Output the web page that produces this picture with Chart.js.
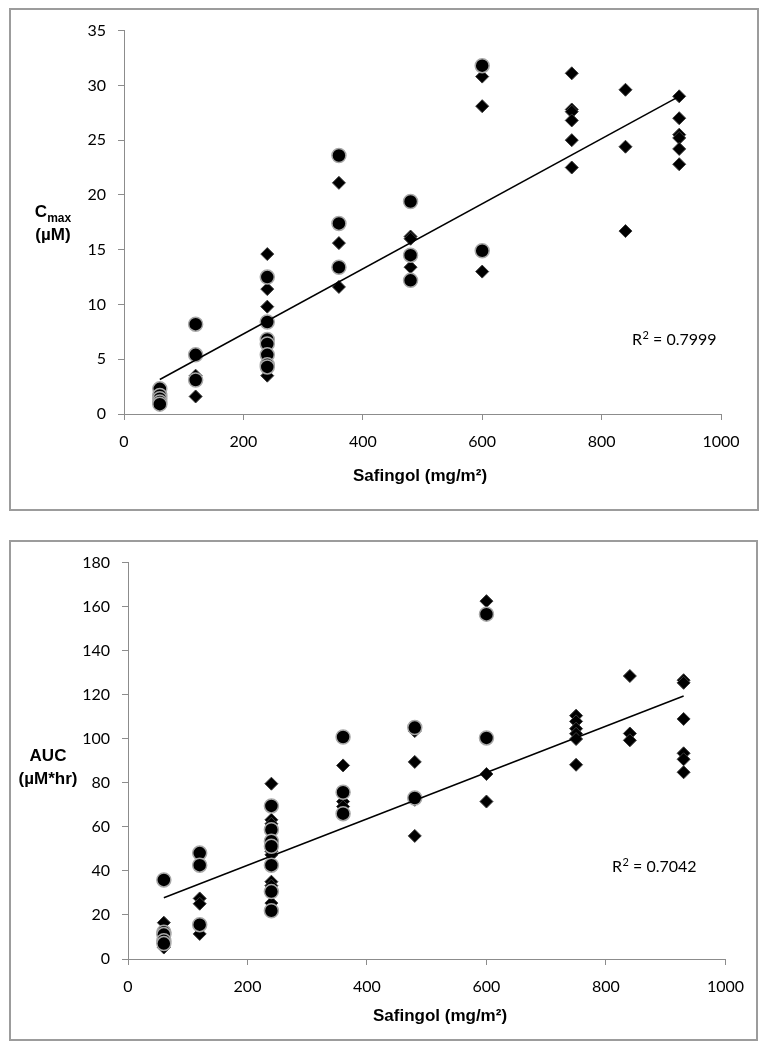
<!DOCTYPE html>
<html>
<head>
<meta charset="utf-8">
<title>Safingol – Cmax / AUC</title>
<script src="https://cdn.jsdelivr.net/npm/chart.js@4.4.1/dist/chart.umd.min.js"></script>
<style>
  html, body { margin: 0; padding: 0; background: #fff; }
  #page { position: relative; width: 768px; height: 1050px; overflow: hidden; }
  .panel { position: absolute; border: 2px solid #9c9c9c; box-sizing: border-box; }
  #page canvas { position: absolute; }
</style>
</head>
<body>
<div id="page">
  <div class="panel" style="left:9px; top:8px; width:750px; height:503px;"></div>
  <div class="panel" style="left:9px; top:540px; width:749px; height:501px;"></div>
  <canvas id="chart-cmax" width="748" height="500" style="left:10px; top:9px;"></canvas>
  <canvas id="chart-auc" width="746" height="498" style="left:10px; top:541px;"></canvas>
</div>

<script>
'use strict';

/* ---- Data ---- */
const doses = [60, 120, 240, 360, 480, 600, 750, 840, 930];

// Cmax (µM), one list per dose level
const cmaxCircles = [
  [2.3, 1.7, 1.4, 1.1, 0.9],
  [8.2, 5.4, 3.1],
  [12.5, 8.4, 6.8, 6.4, 5.4, 4.5, 4.3],
  [23.6, 17.4, 13.4],
  [19.4, 14.5, 12.2],
  [31.8, 14.9],
  [], [], []
];
const cmaxDiamonds = [
  [],
  [3.5, 1.6],
  [14.6, 11.4, 9.8, 3.5],
  [21.1, 15.6, 11.6],
  [16.2, 16.0, 13.4],
  [30.8, 28.1, 13.0],
  [31.1, 27.8, 27.6, 26.8, 25.0, 22.5],
  [29.6, 24.4, 16.7],
  [29.0, 27.0, 25.5, 25.2, 24.2, 22.8]
];

// AUC (µM*hr), one list per dose level
const aucCircles = [
  [35.9, 12.2, 11.1, 8.3, 7.0],
  [48.1, 42.6, 15.6],
  [69.5, 58.7, 53.5, 51.2, 42.6, 30.6, 21.9],
  [100.8, 75.7, 66.0],
  [105.1, 73.1],
  [156.6, 100.4],
  [], [], []
];
const aucDiamonds = [
  [16.5, 5.2],
  [27.5, 25.1, 11.4],
  [79.6, 63.2, 61.4, 48.9, 47.3, 35.1, 33.3, 25.4],
  [87.9, 71.5, 69.2],
  [103.5, 89.5, 72.3, 55.9],
  [162.5, 84.0, 71.5],
  [110.5, 107.9, 104.6, 102.3, 99.9, 88.2],
  [128.5, 102.4, 99.3],
  [126.6, 125.4, 109.0, 93.4, 90.7, 84.8]
];

// linear trend line ends, as drawn
const trendX = [60, 930];
const cmaxTrend = [3.15, 29.0];
const aucTrend = [27.8, 119.4];

// axis ticks
const xTicks = [0, 200, 400, 600, 800, 1000];
const cmaxTicks = [0, 5, 10, 15, 20, 25, 30, 35];
const aucTicks = [0, 20, 40, 60, 80, 100, 120, 140, 160, 180];

/* ---- Helpers ---- */
function toPoints(groups) {
  const pts = [];
  groups.forEach((vals, i) => {
    vals.forEach(v => pts.push({ x: doses[i], y: v }));
  });
  return pts;
}

function trendPoints(vals) {
  return trendX.map((x, i) => ({ x, y: vals[i] }));
}

const TICK_FONT = { family: 'Lato, "Open Sans", sans-serif', size: 16 };
const AXIS_GREY = '#8c8c8c';
const BOLD = '"Liberation Sans", Arial, sans-serif';
const PLAIN = 'Lato, "Open Sans", sans-serif';

/* ---- Axis titles + R² label ---- */
const panelText = {
  id: 'panelText',
  afterDraw(chart, args, opts) {
    const ctx = chart.ctx;
    ctx.save();
    ctx.fillStyle = '#000';
    ctx.textBaseline = 'alphabetic';

    // x title
    ctx.font = 'bold 17px ' + BOLD;
    ctx.textAlign = 'center';
    ctx.fillText(opts.xTitle.text, opts.xTitle.x, opts.xTitle.y);

    // y title (horizontal, may carry a subscript)
    ctx.textAlign = 'left';
    opts.yTitle.lines.forEach(line => {
      ctx.font = 'bold 17px ' + BOLD;
      const w1 = ctx.measureText(line.text).width;
      let w2 = 0;
      if (line.sub) {
        ctx.font = 'bold 12px ' + BOLD;
        w2 = ctx.measureText(line.sub).width;
      }
      const x0 = opts.yTitle.x - (w1 + w2) / 2;
      ctx.font = 'bold 17px ' + BOLD;
      ctx.fillText(line.text, x0, line.y);
      if (line.sub) {
        ctx.font = 'bold 12px ' + BOLD;
        ctx.fillText(line.sub, x0 + w1, line.y + 5);
      }
    });

    // R² (superscript drawn raised, Lato's ² glyph is tiny)
    const r = opts.r2;
    let x = r.x;
    ctx.font = '16px ' + PLAIN;
    ctx.fillText('R', x, r.y);
    x += ctx.measureText('R').width + 0.5;
    ctx.font = '11px ' + PLAIN;
    ctx.fillText('2', x, r.y - 6);
    x += ctx.measureText('2').width;
    ctx.font = '16px ' + PLAIN;
    ctx.fillText(' = ' + r.value, x, r.y);
    ctx.restore();
  }
};

/* ---- Chart builder ---- */
function buildChart(canvasId, spec) {
  const canvas = document.getElementById(canvasId);

  return new Chart(canvas, {
    type: 'scatter',
    data: {
      datasets: [
        {
          label: 'trend',
          data: trendPoints(spec.trend),
          showLine: true,
          borderColor: '#000',
          borderWidth: 1.5,
          pointRadius: 0,
          order: 0
        },
        {
          label: 'circles',
          data: toPoints(spec.circles),
          pointStyle: 'circle',
          pointRadius: 7,
          pointBackgroundColor: '#000',
          pointBorderColor: '#a8a8a8',
          pointBorderWidth: 1.5,
          order: 1
        },
        {
          label: 'diamonds',
          data: toPoints(spec.diamonds),
          pointStyle: 'rectRot',
          pointRadius: 6.5,
          pointBackgroundColor: '#000',
          pointBorderColor: '#3c3c3c',
          pointBorderWidth: 1,
          order: 2
        }
      ]
    },
    options: {
      responsive: false,
      animation: false,
      devicePixelRatio: 1,
      layout: { padding: spec.padding },
      plugins: {
        legend: { display: false },
        tooltip: { enabled: false },
        panelText: spec.text
      },
      scales: {
        x: {
          type: 'linear',
          min: 0,
          max: 1000,
          afterBuildTicks: s => { s.ticks = xTicks.map(v => ({ value: v })); },
          afterFit: s => { s.height = spec.xH; },
          grid: { drawOnChartArea: false, drawTicks: true, tickLength: 6, color: AXIS_GREY },
          border: { display: true, color: AXIS_GREY, width: 1 },
          ticks: {
            padding: 12, color: '#000', font: TICK_FONT, maxRotation: 0, autoSkip: false,
            callback: v => String(v)
          }
        },
        y: {
          type: 'linear',
          min: 0,
          max: spec.yMax,
          afterBuildTicks: s => { s.ticks = spec.yTicks.map(v => ({ value: v })); },
          afterFit: s => { s.width = spec.yW; },
          grid: { drawOnChartArea: false, drawTicks: true, tickLength: 6, color: AXIS_GREY },
          border: { display: true, color: AXIS_GREY, width: 1 },
          ticks: { padding: 12, color: '#000', font: TICK_FONT, autoSkip: false, callback: v => String(v) }
        }
      }
    },
    plugins: [panelText]
  });
}

/* ---- Init ---- */
buildChart('chart-cmax', {
  circles: cmaxCircles,
  diamonds: cmaxDiamonds,
  trend: cmaxTrend,
  yMax: 35,
  yTicks: cmaxTicks,
  padding: { left: 0, top: 19, right: 37, bottom: 0 },
  yW: 114,
  xH: 95,
  text: {
    xTitle: { text: 'Safingol (mg/m²)', x: 410, y: 472 },
    yTitle: { x: 43, lines: [{ text: 'C', sub: 'max', y: 208 }, { text: '(µM)', y: 231 }] },
    r2: { value: '0.7999', x: 622, y: 336 }
  }
});

buildChart('chart-auc', {
  circles: aucCircles,
  diamonds: aucDiamonds,
  trend: aucTrend,
  yMax: 180,
  yTicks: aucTicks,
  padding: { left: 0, top: 21, right: 20, bottom: 0 },
  yW: 118,
  xH: 80,
  text: {
    xTitle: { text: 'Safingol (mg/m²)', x: 430, y: 480 },
    yTitle: { x: 38, lines: [{ text: 'AUC', y: 220 }, { text: '(µM*hr)', y: 243 }] },
    r2: { value: '0.7042', x: 602, y: 331 }
  }
});
</script>
</body>
</html>
